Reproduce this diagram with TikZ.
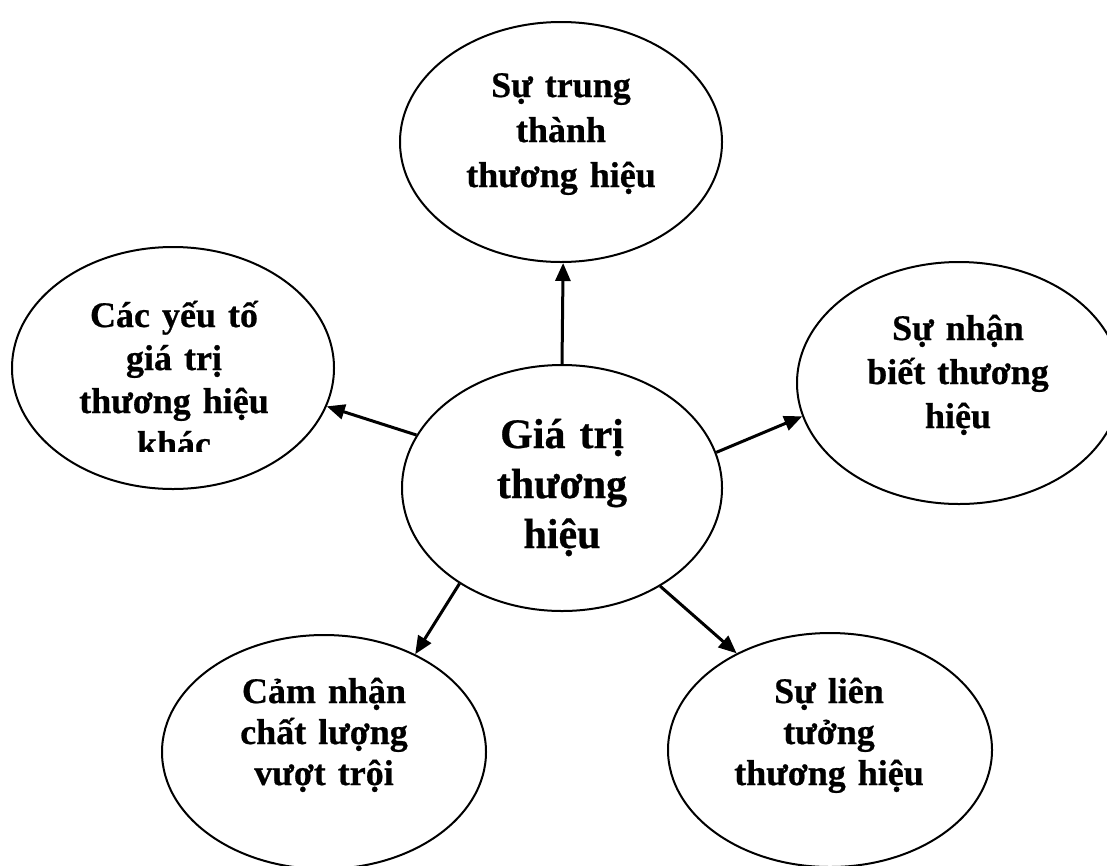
\documentclass[tikz,border=0pt]{standalone}
\usepackage{fontspec}
\setmainfont{Liberation Serif}[BoldFeatures={FakeBold=0.6}]
\usetikzlibrary{arrows.meta,shapes.geometric}
\begin{document}
\begin{tikzpicture}[x=1pt,y=-1pt,
  bubble/.style={draw=black,line width=2pt,ellipse,inner sep=0pt},
  label36/.style={anchor=base,text width=260pt,align=center,inner sep=0pt,
    font=\fontsize{36}{#1}\selectfont\bfseries},
  link/.style={line width=3pt,-{Triangle[length=18pt,width=15pt]}}]
\useasboundingbox (0,0) rectangle (1107,865);
% ellipses
\node[bubble,minimum width=322pt,minimum height=240pt] (T) at (561,142) {};
\node[bubble,minimum width=322pt,minimum height=242pt] (L) at (173,368) {};
\node[bubble,minimum width=320pt,minimum height=246pt] (C) at (562,488) {};
\node[bubble,minimum width=324pt,minimum height=242pt] (R) at (959,383) {};
\node[bubble,minimum width=324pt,minimum height=234pt] (BL) at (324,752) {};
\node[bubble,minimum width=324pt,minimum height=234pt] (BR) at (830,750) {};
% texts
\node[label36=45] (tT) at (561,97) {Sự trung\\thành\\thương hiệu};
\begin{scope}
\clip (0,240) rectangle (340,451);
\node[label36=43] (tL) at (174,327) {Các yếu tố\\giá trị\\thương hiệu\\khác};
\end{scope}
\node[anchor=base,text width=260pt,align=center,inner sep=0pt,
  font=\fontsize{42}{50}\selectfont\bfseries] (tC) at (562,448) {Giá trị\\thương\\hiệu};
\node[label36=44] (tR) at (958,340) {Sự nhận\\biết thương\\hiệu};
\node[label36=41] (tBL) at (324,703) {Cảm nhận\\chất lượng\\vượt trội};
\node[label36=41] (tBR) at (829,703) {Sự liên\\tưởng\\thương hiệu};
% connectors
\draw[link] (C.90) -- (T.271.4);
\draw[link] (C.160.7) -- (L.-14);
\draw[link] (C.13.7) -- (R.192.2);
\draw[link] (C.223) -- (BL.47);
\draw[link] (C.315.3) -- (BR.134.7);
\end{tikzpicture}
\end{document}
